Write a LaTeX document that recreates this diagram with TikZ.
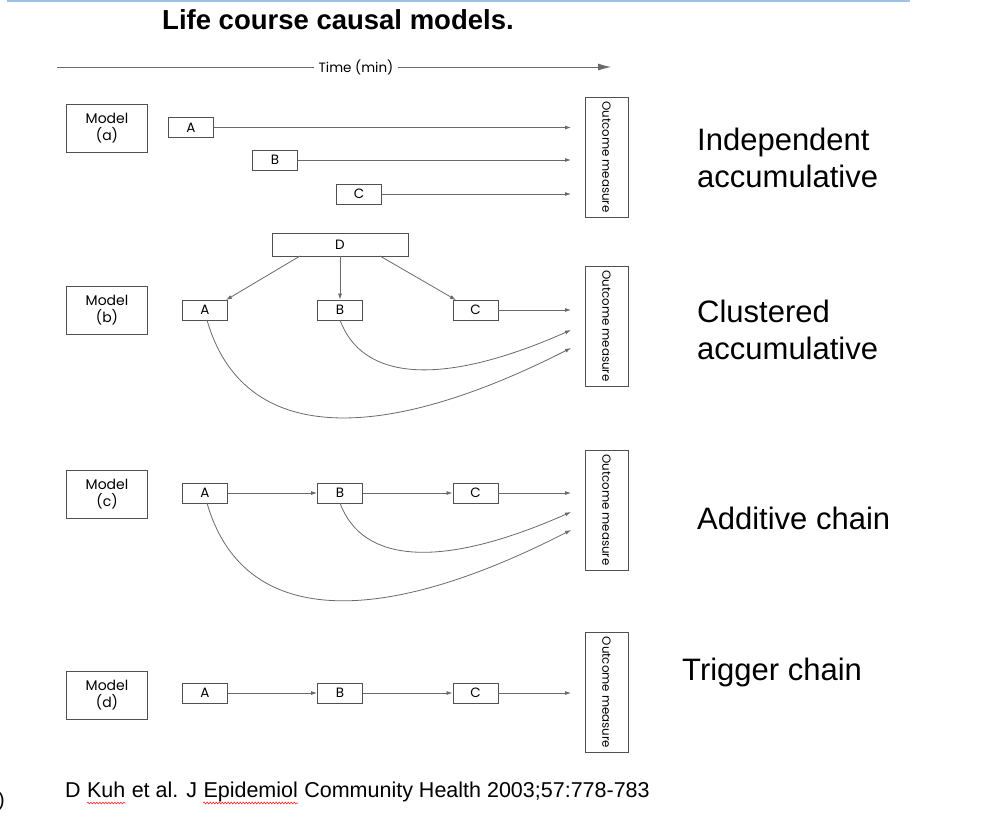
\documentclass[tikz,border=0pt]{standalone}
\usepackage{fontspec}
\setmainfont{Liberation Sans}
\newfontfamily\geo{Poppins}
\usetikzlibrary{arrows.meta,decorations.pathmorphing}
\definecolor{ln}{HTML}{6A6A6A}
\definecolor{bx}{HTML}{505050}
\definecolor{topblue}{HTML}{9DC3E6}
\begin{document}
\begin{tikzpicture}[x=1pt,y=-1pt,
  every node/.style={inner sep=0pt},
  modelbox/.style={draw=bx, line width=0.9pt, minimum width=81pt, minimum height=48pt, align=center, font=\geo\fontsize{14}{17.5}\selectfont},
  varbox/.style={draw=bx, line width=0.9pt, minimum width=45pt, minimum height=20pt, font=\geo\fontsize{13.5}{13.5}\selectfont},
  outbox/.style={draw=bx, line width=0.9pt, minimum width=120pt, minimum height=43pt, rotate=-90, font=\geo\fontsize{11.8}{12}\selectfont},
  conn/.style={draw=ln, line width=0.8pt, -{Latex[length=6pt,width=4pt]}},
  lbl/.style={anchor=west, align=left, font=\fontsize{31}{37}\selectfont},
  citefont/.style={font=\fontsize{21.5}{24}\selectfont, anchor=base west},
  squig/.style={draw=red!85, line width=0.6pt, decorate, decoration={snake, amplitude=0.9pt, segment length=3pt}}
]
\useasboundingbox (0,0) rectangle (985,817);
\fill[white] (0,0) rectangle (985,817);
% top rule
\coordinate (tl) at (7,1); \coordinate (tr) at (910,1);
\draw[topblue, line width=2pt] (tl) -- (tr);
% title
\node[anchor=west, font=\bfseries\fontsize{27.5}{30}\selectfont] (title) at (162,20) {Life course causal models.};
% time axis
\node[font=\geo\fontsize{13.5}{12}\selectfont] (time) at (356,67) {Time (min)};
\coordinate (t0) at (57,67); \coordinate (t1) at (611,67);
\draw[ln, line width=0.8pt] (t0) -- ([xshift=-4pt]time.west);
\draw[ln, line width=0.8pt, -{Latex[length=13pt,width=7pt]}] ([xshift=4pt]time.east) -- (t1);

% ---------- model (a)
\node[modelbox] (ma) at (107,128) {Model\\(a)};
\node[varbox] (aA) at (191,127.5) {A};
\node[varbox] (aB) at (275,160) {B};
\node[varbox] (aC) at (359,194) {C};
\node[outbox] (oa) at (606.5,157) {Outcome measure};
\coordinate (ea1) at (571,127.5); \coordinate (ea2) at (571,160); \coordinate (ea3) at (571,194);
\draw[conn] (aA.east) -- (ea1);
\draw[conn] (aB.east) -- (ea2);
\draw[conn] (aC.east) -- (ea3);
\node[lbl] (la) at (697,158) {Independent\\accumulative};

% ---------- model (b)
\node[varbox, minimum width=136pt, minimum height=23pt] (bD) at (340,244.5) {D};
\node[modelbox] (mb) at (107,310) {Model\\(b)};
\node[varbox] (bA) at (205,310) {A};
\node[varbox] (bB) at (340,310) {B};
\node[varbox] (bC) at (475.5,310) {C};
\node[outbox] (ob) at (606.5,326) {Outcome measure};
\coordinate (dA) at (300,256); \coordinate (dC) at (380,256);
\coordinate (aTop) at (226,300); \coordinate (cTop) at (456,300);
\draw[conn] (dA) -- (aTop);
\draw[conn] (bD.south) -- (bB.north);
\draw[conn] (dC) -- (cTop);
\coordinate (eb1) at (571,310); \coordinate (eb2) at (571,330); \coordinate (eb3) at (571,348);
\coordinate (bBs) at (340,320); \coordinate (bAs) at (207,320);
\draw[conn] (bC.east) -- (eb1);
\draw[conn] (bBs) .. controls (362,380) and (440,388) .. (eb2);
\draw[conn] (bAs) .. controls (243,445) and (380,445) .. (eb3);
\node[lbl] (lb) at (697,330) {Clustered\\accumulative};

% ---------- model (c)
\node[modelbox] (mc) at (107,494) {Model\\(c)};
\node[varbox] (cA) at (205,493) {A};
\node[varbox] (cB) at (340,493) {B};
\node[varbox] (cC) at (475.5,493) {C};
\node[outbox] (oc) at (606.5,510) {Outcome measure};
\coordinate (ec1) at (571,493); \coordinate (ec2) at (571,512); \coordinate (ec3) at (571,530);
\coordinate (cBs) at (340,503); \coordinate (cAs) at (207,503);
\draw[conn] (cA.east) -- (cB.west);
\draw[conn] (cB.east) -- (cC.west);
\draw[conn] (cC.east) -- (ec1);
\draw[conn] (cBs) .. controls (362,563) and (440,570) .. (ec2);
\draw[conn] (cAs) .. controls (243,628) and (380,628) .. (ec3);
\node[lbl] (lc) at (697,518) {Additive chain};

% ---------- model (d)
\node[modelbox] (md) at (107,695) {Model\\(d)};
\node[varbox] (dA2) at (205,693) {A};
\node[varbox] (dB2) at (340,693) {B};
\node[varbox] (dC2) at (475.5,693) {C};
\node[outbox] (od) at (606.5,692.5) {Outcome measure};
\coordinate (ed1) at (571,693);
\draw[conn] (dA2.east) -- (dB2.west);
\draw[conn] (dB2.east) -- (dC2.west);
\draw[conn] (dC2.east) -- (ed1);
\node[lbl] (ld) at (682,672) {Trigger chain};

% citation
\node[citefont] (c1) at (65,797) {D};
\node[citefont] (c2) at ([xshift=6pt]c1.base east) {Kuh};
\node[citefont] (c3) at ([xshift=6pt]c2.base east) {et al. J};
\node[citefont] (c4) at ([xshift=6pt]c3.base east) {Epidemiol};
\node[citefont] (c5) at ([xshift=6pt]c4.base east) {Community Health 2003;57:778-783};
\draw[squig] ([yshift=-6pt]c2.base west) -- ([yshift=-6pt]c2.base east);
\draw[squig] ([yshift=-6pt]c4.base west) -- ([yshift=-6pt]c4.base east);
\node[anchor=west, font=\fontsize{20}{22}\selectfont] (paren) at (-2,801) {)};
\end{tikzpicture}
\end{document}
